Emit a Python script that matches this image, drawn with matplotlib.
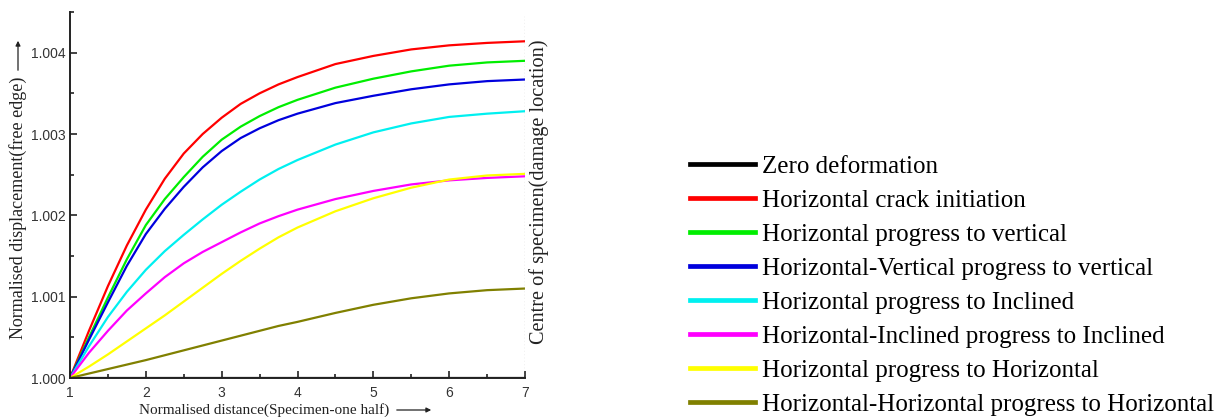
import matplotlib
matplotlib.use('Agg')
import matplotlib.pyplot as plt
from matplotlib.ticker import FixedLocator, FormatStrFormatter

# normalised distance (specimen one half)
x = [1, 1.25, 1.5, 1.75, 2, 2.25, 2.5, 2.75, 3, 3.25, 3.5, 3.75, 4, 4.5, 5, 5.5, 6, 6.5, 7]

# displacement above 1.000, in units of 0.001
zero = [0] * len(x)
crack_init = [0, .58, 1.13, 1.63, 2.07, 2.45, 2.76, 3.0, 3.2, 3.37, 3.5, 3.61, 3.70, 3.86, 3.96, 4.04, 4.09, 4.12, 4.14]
h_to_v = [0, .5, .99, 1.46, 1.88, 2.2, 2.47, 2.72, 2.93, 3.09, 3.22, 3.33, 3.42, 3.57, 3.68, 3.77, 3.84, 3.88, 3.90]
hv_to_v = [0, .47, .93, 1.38, 1.77, 2.08, 2.35, 2.59, 2.79, 2.95, 3.07, 3.17, 3.25, 3.38, 3.47, 3.55, 3.61, 3.65, 3.67]
h_to_inc = [0, .39, .75, 1.06, 1.33, 1.56, 1.76, 1.95, 2.13, 2.29, 2.44, 2.57, 2.68, 2.87, 3.02, 3.13, 3.21, 3.25, 3.28]
hi_to_inc = [0, .31, .58, .83, 1.04, 1.24, 1.41, 1.55, 1.67, 1.79, 1.9, 1.99, 2.07, 2.2, 2.30, 2.38, 2.43, 2.46, 2.48]
h_to_h = [0, .14, .29, .45, .61, .77, .94, 1.11, 1.28, 1.44, 1.59, 1.73, 1.85, 2.05, 2.21, 2.34, 2.44, 2.49, 2.51]
hh_to_h = [0, .055, .11, .165, .22, .28, .34, .40, .46, .52, .58, .64, .69, .80, .90, .98, 1.04, 1.08, 1.10]

series = [
    ('Zero deformation', zero, 'black'),
    ('Horizontal crack initiation', crack_init, 'red'),
    ('Horizontal progress to vertical', h_to_v, '#00ee00'),
    ('Horizontal-Vertical progress to vertical', hv_to_v, '#0000dd'),
    ('Horizontal progress to Inclined', h_to_inc, '#00f0f0'),
    ('Horizontal-Inclined progress to Inclined', hi_to_inc, '#ff00ff'),
    ('Horizontal progress to Horizontal', h_to_h, '#ffff00'),
    ('Horizontal-Horizontal progress to Horizontal', hh_to_h, '#808000'),
]

W, H = 1225, 417
fig = plt.figure(figsize=(W / 100, H / 100), dpi=100)
ax = fig.add_axes([70 / W, 1 - 378 / H, 455 / W, 366 / H])

for label, vals, col in series:
    ax.plot(x, [1 + v / 1000 for v in vals], color=col, lw=1.6, label=label)

ax.set_xlim(1, 7)
ax.set_ylim(1.0, 1.0045)
ax.set_xticks([1, 2, 3, 4, 5, 6, 7])
ax.xaxis.set_minor_locator(FixedLocator([1.5, 2.5, 3.5, 4.5, 5.5, 6.5]))
ax.set_yticks([1.000, 1.001, 1.002, 1.003, 1.004])
ax.yaxis.set_minor_locator(FixedLocator([1.0005, 1.0015, 1.0025, 1.0035, 1.0045]))
ax.yaxis.set_major_formatter(FormatStrFormatter('%.3f'))
ax.tick_params(which='both', direction='in', width=1.2, colors='#222222',
               labelsize=10, pad=3)
ax.tick_params(axis='x', which='major', pad=6)
ax.tick_params(which='major', length=5)
ax.tick_params(which='minor', length=3)
for lab in ax.get_xticklabels() + ax.get_yticklabels():
    lab.set_family('Liberation Sans')
    lab.set_color('#333333')

ax.spines['top'].set_visible(False)
ax.spines['right'].set_visible(False)
for s in ('left', 'bottom'):
    ax.spines[s].set_linewidth(1.4)
    ax.spines[s].set_color('#222222')

ax.axvline(7, ymin=0, ymax=0.99, color='#999999', ls=':', lw=0.9)

serif = 'Liberation Serif'
arrow = dict(arrowstyle='-|>', lw=0.9, color='#222222', mutation_scale=7)

# axis labels with their trailing arrows
fig.text(264 / W, 1 - 410 / H, 'Normalised distance(Specimen-one half)', family=serif,
         fontsize=11, ha='center', va='center', color='#222222')
fig.text(18 / W, 1 - 208 / H, 'Normalised displacement(free edge)', family=serif,
         fontsize=13, rotation=90, ha='center', va='center', color='#222222')
ax.annotate('', xy=(434 / W, 1 - 410 / H), xytext=(394 / W, 1 - 410 / H),
            xycoords='figure fraction', arrowprops=arrow)
ax.annotate('', xy=(18 / W, 1 - 38 / H), xytext=(18 / W, 1 - 73 / H),
            xycoords='figure fraction', arrowprops=arrow)

ax.text(1.03, 0.51, 'Centre of specimen(damage location)', transform=ax.transAxes,
        rotation=90, ha='center', va='center', family=serif, fontsize=14.6,
        color='#222222')

leg = fig.legend(loc='upper left', bbox_to_anchor=(0.5632, 0.627), frameon=False,
                 prop={'family': serif, 'size': 18},
                 handlelength=2.6, handletextpad=0.28, labelspacing=0.46,
                 borderaxespad=0, borderpad=0)
for h in leg.get_lines():
    h.set_linewidth(3.4)

fig.savefig('out.png', dpi=100)
